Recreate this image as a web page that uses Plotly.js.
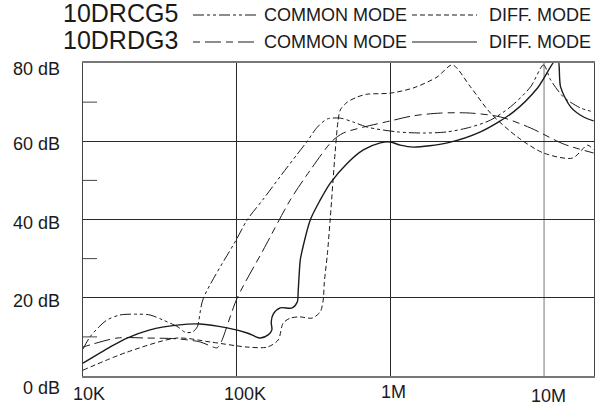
<!DOCTYPE html>
<html>
<head>
<meta charset="utf-8">
<script src="https://cdn.plot.ly/plotly-3.0.1.min.js"></script>
<style>html,body{margin:0;padding:0;background:#fff;}#chart{width:607px;height:410px;}</style>
</head>
<body>
<div id="chart"></div>
<script>
// ---- data (frequency in Hz, attenuation in dB) ----
const freqCg5Common = [10000, 11100, 12900, 14300, 17400, 22500, 27300, 33200, 41600, 46100, 51300, 55300, 60500, 100000, 117000, 149000, 192000, 248000, 287700, 334600, 388700, 472400, 574100, 708300, 1110600, 1640600, 2351000, 3320000, 4482000, 6051000, 8168000, 9925000, 11024000, 13397000, 17290000, 21010000];
const dbCg5Common   = [6.9, 10.0, 12.8, 14.3, 15.6, 15.8, 15.6, 14.3, 12.5, 11.2, 11.2, 12.5, 19.7, 35.0, 39.9, 45.2, 51.0, 56.7, 60.0, 63.6, 65.7, 65.9, 64.9, 63.6, 62.4, 62.1, 62.4, 63.6, 65.4, 68.8, 73.9, 79.5, 75.7, 71.3, 68.5, 67.5];

const freqCg5Diff = [10000, 19360, 40900, 67200, 117000, 158300, 186200, 200600, 223300, 258500, 309300, 349700, 365600, 371500, 388700, 406400, 437800, 456000, 472400, 524300, 608500, 700000, 1000000, 1405000, 2011000, 2531000, 3320000, 4482000, 6704000, 9925000, 15300000, 19200000, 21010000];
const dbCg5Diff   = [1.5, 6.1, 9.7, 8.7, 7.4, 7.4, 9.2, 13.5, 14.8, 15.1, 14.8, 16.4, 19.4, 23.8, 31.0, 40.3, 57.5, 65.0, 68.0, 70.0, 71.3, 72.0, 72.3, 73.6, 76.4, 79.5, 73.9, 67.2, 61.1, 57.0, 55.7, 59.0, 57.8];

const freqRdg3Common = [10000, 16650, 26100, 40900, 57800, 70300, 74700, 79300, 100700, 148800, 223300, 300900, 419300, 494100, 666500, 1000000, 1405000, 2116000, 3320000, 5210000, 8168000, 13397000, 21010000];
const dbRdg3Common   = [7.4, 9.7, 9.7, 9.5, 8.7, 7.4, 7.2, 8.7, 19.9, 32.2, 45.0, 52.6, 60.1, 62.1, 63.6, 65.2, 66.5, 67.2, 67.2, 66.2, 63.4, 59.3, 57.0];

const freqRdg3Diff = [10000, 14990, 19360, 27300, 40900, 57800, 86640, 117000, 142300, 160300, 169400, 167800, 172900, 191900, 229800, 247800, 251500, 259200, 267100, 301200, 349900, 406500, 524800, 667100, 860800, 1000000, 1161700, 1411000, 2351000, 3858000, 6329000, 9072000, 12245000, 12810000, 14880000, 18080000, 21010000];
const dbRdg3Diff   = [3.3, 7.4, 9.7, 11.8, 13.0, 13.3, 12.3, 11.0, 9.7, 10.5, 11.8, 13.8, 15.8, 17.4, 17.4, 18.9, 22.0, 29.6, 32.2, 39.9, 45.0, 49.3, 54.4, 57.8, 59.6, 59.8, 59.0, 58.5, 59.6, 62.4, 67.5, 73.6, 81.3, 73.9, 68.8, 66.2, 65.2];

const xTickValues = [1e4, 1e5, 1e6, 1e7];
const xTickLabels = ['10K', '100K', '1M', '10M'];
const yTickValues = [0, 20, 40, 60, 80];
const yTickLabels = ['0 dB', '20 dB', '40 dB', '60 dB', '80 dB'];
const yMinorValues = [10, 30, 50, 70];
const modelNames = ['10DRCG5', '10DRDG3'];
const modeNames = ['COMMON MODE', 'DIFF. MODE'];

// ---- styles ----
const INK = '#1a1a1a';
const FONT = 'Liberation Sans, Arial, sans-serif';
const dashCg5Common = '11px,3px,3px,3px,3px,3px';
const dashCg5Diff = '5px,3px';
const dashRdg3Common = '7px,5px,16px,5px';
const dashRdg3Diff = 'solid';

const W = 607, H = 410, ML = 83, MR = 13, MT = 63, MB = 34;
const PW = W - ML - MR, PH = H - MT - MB;
const px = x => (x - ML) / PW;
const py = y => (H - MB - y) / PH;

function curve(f, d, dash, width) {
  return {x: f, y: d, type: 'scatter', mode: 'lines', hoverinfo: 'skip',
    line: {color: INK, width: width, dash: dash, shape: 'spline', smoothing: 0.8}};
}

const traces = [
  curve(freqCg5Common, dbCg5Common, dashCg5Common, 1),
  curve(freqCg5Diff, dbCg5Diff, dashCg5Diff, 1),
  curve(freqRdg3Common, dbRdg3Common, dashRdg3Common, 1),
  curve(freqRdg3Diff, dbRdg3Diff, dashRdg3Diff, 1.4)
];

const annotations = [];
const xShifts = [6, 8, 3, 4.5];
const yShifts = [-17.5, -17.5, -15.5, -19.5];
xTickValues.forEach((v, i) => annotations.push({
  x: Math.log10(v), xref: 'x', y: 0, yref: 'paper', text: xTickLabels[i], showarrow: false,
  xanchor: 'center', yanchor: 'middle', xshift: xShifts[i], yshift: yShifts[i],
  font: {family: FONT, size: 18, color: INK}
}));
const ySh = [-12, -3, -3, -2.5, -5.5];
yTickValues.forEach((v, i) => annotations.push({
  x: 0, xref: 'paper', y: v, yref: 'y', text: yTickLabels[i], showarrow: false,
  xanchor: 'right', yanchor: 'middle', xshift: -21, yshift: ySh[i],
  font: {family: FONT, size: 18, color: INK}
}));

// legend block
const rowY = [14, 41];
const rowDash = [[dashCg5Common, dashCg5Diff], [dashRdg3Common, dashRdg3Diff]];
const shapes = [];
modelNames.forEach((name, r) => {
  annotations.push({x: px(61), xref: 'paper', y: py(rowY[r] - 1), yref: 'paper', text: name, showarrow: false,
    xanchor: 'left', yanchor: 'middle', font: {family: FONT, size: 25, color: INK}});
  annotations.push({x: px(262), xref: 'paper', y: py(rowY[r] + 1), yref: 'paper', text: modeNames[0], showarrow: false,
    xanchor: 'left', yanchor: 'middle', font: {family: FONT, size: 18, color: INK}});
  annotations.push({x: px(487), xref: 'paper', y: py(rowY[r] + 1), yref: 'paper', text: modeNames[1], showarrow: false,
    xanchor: 'left', yanchor: 'middle', font: {family: FONT, size: 18, color: INK}});
  shapes.push({type: 'line', xref: 'paper', yref: 'paper', x0: px(193), x1: px(258), y0: py(rowY[r] + 1), y1: py(rowY[r] + 1),
    line: {color: INK, width: 1, dash: rowDash[r][0]}});
  shapes.push({type: 'line', xref: 'paper', yref: 'paper', x0: px(412), x1: px(477), y0: py(rowY[r] + 1), y1: py(rowY[r] + 1),
    line: {color: INK, width: 1, dash: rowDash[r][1]}});
});
// minor ticks on the left axis
yMinorValues.forEach(v => shapes.push({type: 'line', xref: 'paper', yref: 'y', x0: 0, x1: px(97), y0: v, y1: v,
  line: {color: '#444', width: 1}}));
// 10M grid line is drawn lighter in the reference
shapes.push({type: 'line', xref: 'x', yref: 'paper', x0: 1e7, x1: 1e7, y0: 0, y1: 1, layer: 'below',
  line: {color: '#777', width: 1}});

const layout = {
  width: W, height: H, margin: {l: ML, r: MR, t: MT, b: MB, pad: 0},
  paper_bgcolor: '#fff', plot_bgcolor: '#fff', showlegend: false,
  xaxis: {type: 'log', range: [4, 7.325], tickvals: xTickValues.slice(1, 3), showticklabels: false, ticks: '',
    showgrid: true, gridcolor: '#2a2a2a', gridwidth: 1, showline: true, mirror: true, linecolor: '#777', linewidth: 2, zeroline: false},
  yaxis: {range: [0, 80], tickvals: yTickValues, showticklabels: false, ticks: '',
    showgrid: true, gridcolor: '#2a2a2a', gridwidth: 1, showline: true, mirror: true, linecolor: '#444', linewidth: 1.2, zeroline: false},
  annotations: annotations, shapes: shapes
};

Plotly.newPlot('chart', traces, layout, {staticPlot: true, displayModeBar: false});
</script>
</body>
</html>
